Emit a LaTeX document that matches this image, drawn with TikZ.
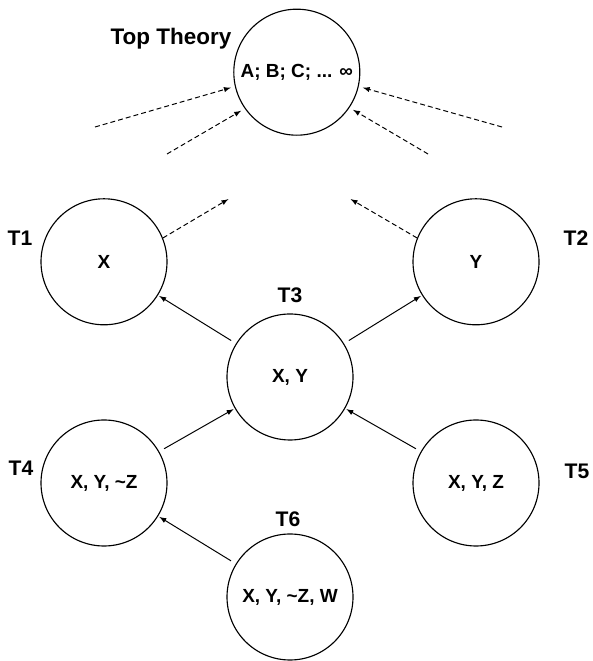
\documentclass[tikz,border=0pt]{standalone}
\usepackage{fontspec}
\setmainfont{Liberation Sans}
\begin{document}
\begin{tikzpicture}[>=latex,
  theory/.style={circle,draw,line width=0.8pt,minimum size=3.15cm,inner sep=0pt,
    font=\bfseries\fontsize{13.5}{16}\selectfont},
  tname/.style={font=\bfseries\fontsize{15}{18}\selectfont},
  link/.style={->,line width=0.7pt,shorten <=4pt,shorten >=1pt},
  guess/.style={->,line width=0.7pt,dash pattern=on 3.5pt off 2.2pt,shorten >=3pt}]
  \useasboundingbox (0,0) rectangle (14.8,16.525);
  % theories
  \node[theory] (top) at (7.42,14.72) {A; B; C; ... ∞};
  \node[theory] (t1) at (2.6,9.98) {X};
  \node[theory] (t2) at (11.9,9.98) {Y};
  \node[theory] (t3) at (7.25,7.1) {X, Y};
  \node[theory] (t4) at (2.6,4.45) {X, Y, \textasciitilde Z};
  \node[theory] (t5) at (11.9,4.45) {X, Y, Z};
  \node[theory] (t6) at (7.25,1.6) {X, Y, \textasciitilde Z, W};
  % names
  \node[tname,font=\bfseries\fontsize{16}{19}\selectfont] (toplab) at (4.275,15.55) {Top Theory};
  \node[tname] (t1lab) at (0.5,10.575) {T1};
  \node[tname] (t2lab) at (14.4,10.575) {T2};
  \node[tname] (t3lab) at (7.25,9.15) {T3};
  \node[tname] (t4lab) at (0.525,4.825) {T4};
  \node[tname] (t5lab) at (14.425,4.75) {T5};
  \node[tname] (t6lab) at (7.2,3.55) {T6};
  % solid links
  \draw[link] (t3) -- (t1);
  \draw[link] (t3) -- (t2);
  \draw[link] (t4) -- (t3);
  \draw[link] (t5) -- (t3);
  \draw[link] (t6) -- (t4);
  % dashed links
  \coordinate (a1) at (2.375,13.35);
  \coordinate (a2) at (4.175,12.675);
  \coordinate (a3) at (12.55,13.35);
  \coordinate (a4) at (10.7,12.675);
  \coordinate (b1) at (5.8,11.6);
  \coordinate (b2) at (8.675,11.6);
  \foreach \c/\a in {a1/193, a2/215, a3/347, a4/326}
    \draw[guess] (\c) -- (top.\a);
  \draw[guess] (t1.22) -- (b1);
  \draw[guess] (t2.158) -- (b2);
\end{tikzpicture}
\end{document}
